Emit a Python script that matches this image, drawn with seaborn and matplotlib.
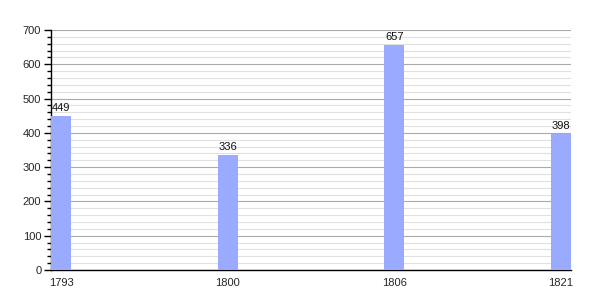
import matplotlib
matplotlib.use("Agg")
import matplotlib.pyplot as plt
import seaborn as sns
import pandas as pd
from matplotlib.ticker import MultipleLocator

years = ["1793", "1800", "1806", "1821"]
population = [449, 336, 657, 398]

sns.set_style("white")
plt.rcParams['font.family'] = ['Liberation Sans', 'DejaVu Sans']

df = pd.DataFrame({"year": years, "pop": population})

fig = plt.figure(figsize=(6, 3), dpi=100)
ax = fig.add_axes([51/600, 30/300, 520/600, 240/300])

bw = 0.123
sns.barplot(data=df, x="year", y="pop", ax=ax, color="#99aaff", width=bw,
            saturation=1, edgecolor="none", zorder=3)
for i, v in enumerate(population):
    ax.text(i, v + 8, str(v), ha="center", va="bottom", fontsize=8, color="#111111")

ax.set_xlim(-bw/2, len(years) - 1 + bw/2)
ax.set_ylim(0, 700)
ax.yaxis.set_major_locator(MultipleLocator(100))
ax.yaxis.set_minor_locator(MultipleLocator(20))
ax.grid(which="major", axis="y", color="#aaaaaa", linewidth=0.8, zorder=0)
ax.grid(which="minor", axis="y", color="#e0e0e0", linewidth=0.8, zorder=0)
ax.set_axisbelow(True)
for s in ["top", "right"]:
    ax.spines[s].set_visible(False)
for s in ["left", "bottom"]:
    ax.spines[s].set_color("black")
    ax.spines[s].set_linewidth(1)
ax.tick_params(axis="y", which="major", left=True, length=5, width=1, labelsize=8, pad=2, color="black")
ax.tick_params(axis="y", which="minor", left=True, length=3, width=1, color="black")
ax.tick_params(axis="x", bottom=False, labelsize=8, pad=2)
ax.set_xlabel("")
ax.set_ylabel("")

fig.savefig("out.png", dpi=100)
